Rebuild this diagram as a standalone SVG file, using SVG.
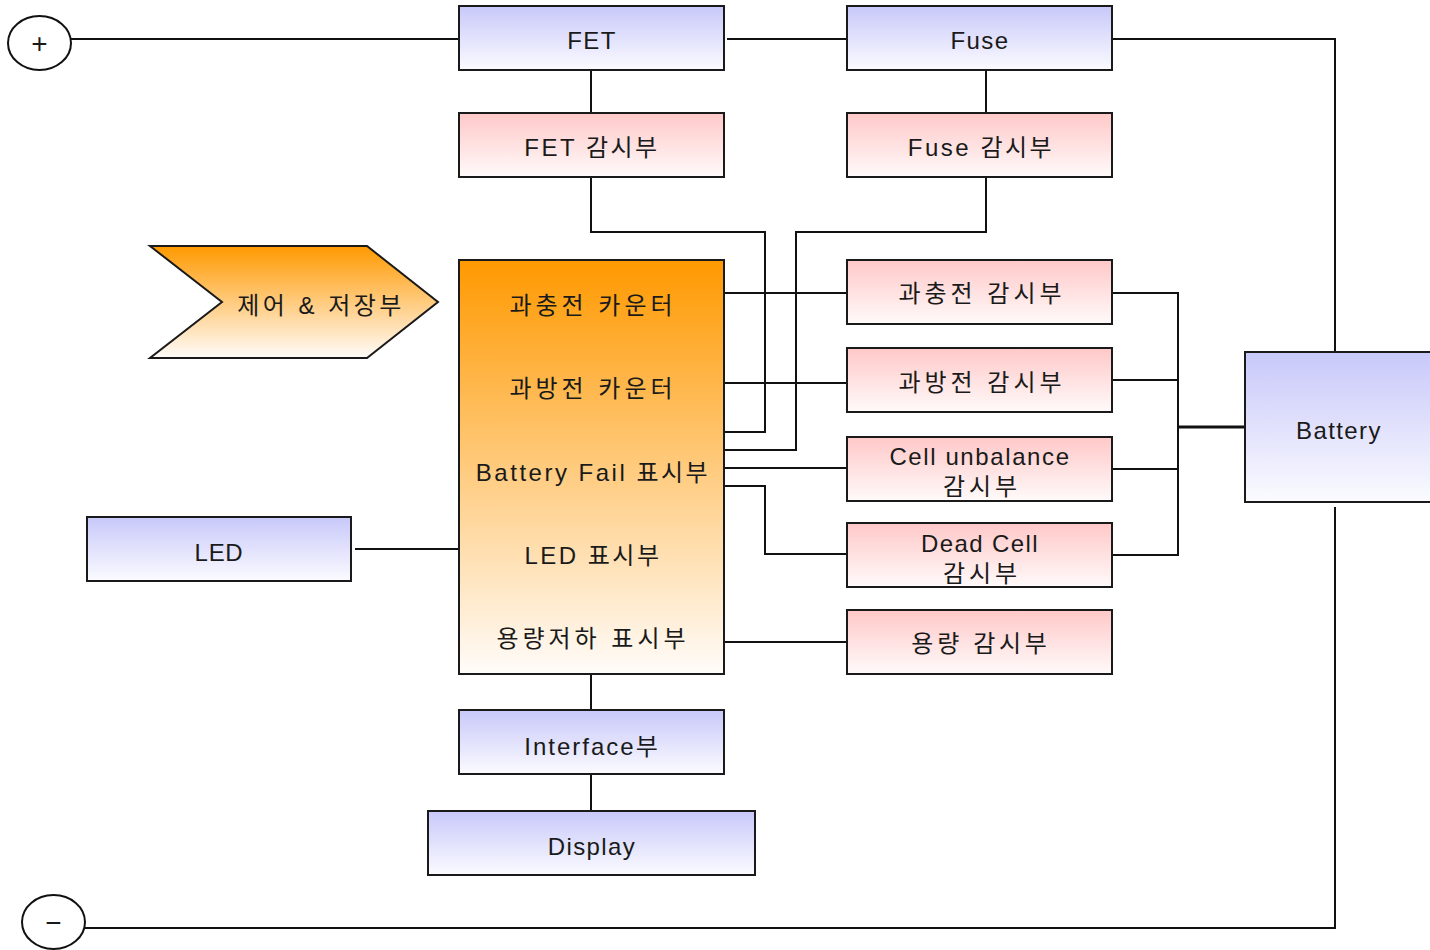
<svg xmlns="http://www.w3.org/2000/svg" width="1430" height="950" viewBox="0 0 1430 950">
<defs>
<linearGradient id="gBlue" x1="0" y1="0" x2="0" y2="1"><stop offset="0" stop-color="#c8c8fa"/><stop offset="1" stop-color="#fbfbff"/></linearGradient>
<linearGradient id="gPink" x1="0" y1="0" x2="0" y2="1"><stop offset="0" stop-color="#ffc8c8"/><stop offset="1" stop-color="#fffafa"/></linearGradient>
<linearGradient id="gOrange" x1="0" y1="0" x2="0" y2="1"><stop offset="0" stop-color="#ff9900"/><stop offset="1" stop-color="#fffcfa"/></linearGradient>
<style>
.box{stroke:#1a1a1a;stroke-width:2}
.blue{fill:url(#gBlue)}
.pink{fill:url(#gPink)}
.orange{fill:url(#gOrange)}
.t{font-family:"Liberation Sans","Noto Sans CJK KR",sans-serif;font-size:24px;fill:#1a1a1a;text-anchor:middle}
.k{letter-spacing:4px}
.m{letter-spacing:2.5px}
.l{letter-spacing:1.4px}
.c{fill:none;stroke:#111;stroke-width:2}
.term{fill:#fff;stroke:#111;stroke-width:2}
</style>
</defs>
<g id="connectors">
<polyline class="c" points="71,39 459,39"/>
<polyline class="c" points="727,39 847,39"/>
<polyline class="c" points="1112,39 1335,39 1335,352"/>
<polyline class="c" points="591,70 591,113"/>
<polyline class="c" points="986,70 986,113"/>
<polyline class="c" points="591,177 591,232 765,232 765,432 724,432"/>
<polyline class="c" points="986,177 986,232 796,232 796,450 724,450"/>
<polyline class="c" points="724,293 847,293"/>
<polyline class="c" points="724,383 847,383"/>
<polyline class="c" points="724,468 847,468"/>
<polyline class="c" points="724,486 765,486 765,554 847,554"/>
<polyline class="c" points="724,642 847,642"/>
<polyline class="c" points="1112,293 1178,293 1178,555 1112,555"/>
<polyline class="c" points="1112,380 1178,380"/>
<polyline class="c" points="1112,469 1178,469"/>
<polyline class="c" points="1178,427 1245,427" style="stroke-width:3"/>
<polyline class="c" points="1335,507 1335,928 85,928"/>
<polyline class="c" points="355,549 459,549"/>
<polyline class="c" points="591,674 591,710"/>
<polyline class="c" points="591,774 591,811"/>
</g>
<g id="plus"><ellipse class="term" cx="39.5" cy="43" rx="31.5" ry="27"/><text class="t" x="39.5" y="53" style="font-size:28px">+</text></g>
<g id="minus"><ellipse class="term" cx="53.5" cy="922" rx="31.5" ry="27"/><text class="t" x="53.5" y="932" style="font-size:28px">−</text></g>
<g id="fet"><rect class="box blue" x="459" y="6" width="265" height="64"/><text class="t l" x="592" y="49">FET</text></g>
<g id="fuse"><rect class="box blue" x="847" y="6" width="265" height="64"/><text class="t l" x="980" y="49">Fuse</text></g>
<g id="fet-mon"><rect class="box pink" x="459" y="113" width="265" height="64"/><text class="t m" x="592" y="156">FET 감시부</text></g>
<g id="fuse-mon"><rect class="box pink" x="847" y="113" width="265" height="64"/><text class="t m" x="981" y="156">Fuse 감시부</text></g>
<g id="control"><polygon class="box orange" points="150,246 367,246 438,302 367,358 150,358 222,302"/><text class="t" x="321" y="314" style="letter-spacing:3.5px">제어 &amp; 저장부</text></g>
<g id="main"><rect class="box orange" x="459" y="260" width="265" height="414"/>
<text class="t k" x="593" y="314">과충전 카운터</text>
<text class="t k" x="593" y="397">과방전 카운터</text>
<text class="t m" x="593" y="481">Battery Fail 표시부</text>
<text class="t m" x="593" y="564">LED 표시부</text>
<text class="t k" x="593" y="647">용량저하 표시부</text></g>
<g id="oc-mon"><rect class="box pink" x="847" y="260" width="265" height="64"/><text class="t k" x="982" y="302">과충전 감시부</text></g>
<g id="od-mon"><rect class="box pink" x="847" y="348" width="265" height="64"/><text class="t k" x="982" y="391">과방전 감시부</text></g>
<g id="cu-mon"><rect class="box pink" x="847" y="437" width="265" height="64"/><text class="t" x="980" y="465" style="letter-spacing:1.6px">Cell unbalance</text><text class="t k" x="982" y="495">감시부</text></g>
<g id="dc-mon"><rect class="box pink" x="847" y="523" width="265" height="64"/><text class="t l" x="980" y="552">Dead Cell</text><text class="t k" x="982" y="582">감시부</text></g>
<g id="cap-mon"><rect class="box pink" x="847" y="610" width="265" height="64"/><text class="t" x="981" y="652" style="letter-spacing:3.7px">용량 감시부</text></g>
<g id="battery"><rect class="box blue" x="1245" y="352" width="190" height="150"/><text class="t l" x="1339" y="439">Battery</text></g>
<g id="led"><rect class="box blue" x="87" y="517" width="264" height="64"/><text class="t" x="219" y="561" style="letter-spacing:0.7px">LED</text></g>
<g id="interface"><rect class="box blue" x="459" y="710" width="265" height="64"/><text class="t" x="592" y="755" style="letter-spacing:2px">Interface부</text></g>
<g id="display"><rect class="box blue" x="428" y="811" width="327" height="64"/><text class="t l" x="592" y="855">Display</text></g>
</svg>
